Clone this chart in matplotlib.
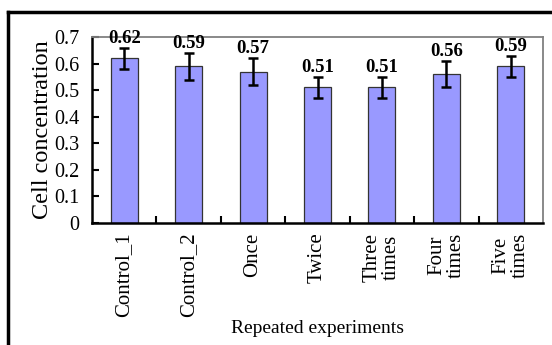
import matplotlib
matplotlib.use("Agg")
import matplotlib.pyplot as plt
from matplotlib.lines import Line2D
import numpy as np

categories = ["Control_1", "Control_2", "Once", "Twice", "Three\ntimes", "Four\ntimes", "Five\ntimes"]
values = [0.62, 0.59, 0.57, 0.51, 0.51, 0.56, 0.59]
errors = [0.04, 0.05, 0.05, 0.04, 0.04, 0.05, 0.04]
value_labels = ["0.62", "0.59", "0.57", "0.51", "0.51", "0.56", "0.59"]
yticks = [0, 0.1, 0.2, 0.3, 0.4, 0.5, 0.6, 0.7]
ytick_labels = ["0", "0.1", "0.2", "0.3", "0.4", "0.5", "0.6", "0.7"]

plt.rcParams['font.family'] = ['Liberation Serif', 'DejaVu Serif']

fig = plt.figure(figsize=(5.52, 3.45), dpi=100)
ax = fig.add_axes([92/552, 1-223/345, (543-92)/552, (223-37)/345])

x = np.arange(len(categories))
ax.bar(x, values, width=0.42, color="#9999FF", edgecolor="#333333", linewidth=0.9, zorder=2)
ax.errorbar(x, values, yerr=errors, fmt="none", ecolor="black", elinewidth=1.8,
            capsize=3.5, capthick=1.8, zorder=3)
for xi, v, e, lab in zip(x, values, errors, value_labels):
    ax.text(xi, v + e + 0.003, lab, ha="center", va="bottom", fontsize=13.5,
            fontweight="bold")

ax.set_xlim(-0.5, len(categories) - 0.5)
ax.set_ylim(0, 0.7)
ax.set_yticks(yticks)
ax.set_yticklabels(ytick_labels, fontsize=14.5)
ax.set_xticks(x)
ax.set_xticklabels(categories, rotation=90, fontsize=15, linespacing=1.0, va="top")
ax.tick_params(axis="x", length=0, pad=7)
ax.set_xticks(np.arange(0.5, len(categories) - 0.5, 1), minor=True)
ax.tick_params(axis="x", which="minor", direction="in", length=5, width=1.5)
ax.tick_params(axis="y", direction="in", length=5, width=1.5, pad=9)

for s in ["left", "bottom"]:
    ax.spines[s].set_linewidth(1.8)
    ax.spines[s].set_color("black")
for s in ["top", "right"]:
    ax.spines[s].set_linewidth(1.3)
    ax.spines[s].set_color("#808080")

ax.set_ylabel("Cell concentration", fontsize=17.5, labelpad=1)
ax.set_xlabel("Repeated experiments", fontsize=14, labelpad=2)

# outer frame (left and top visible)
fig.add_artist(Line2D([8/552, 8/552], [0, 1-12/345], color="black", linewidth=2.5,
                      transform=fig.transFigure))
fig.add_artist(Line2D([8/552, 1], [1-12/345, 1-12/345], color="black", linewidth=2.5,
                      transform=fig.transFigure))

fig.savefig("out.png", dpi=100)
